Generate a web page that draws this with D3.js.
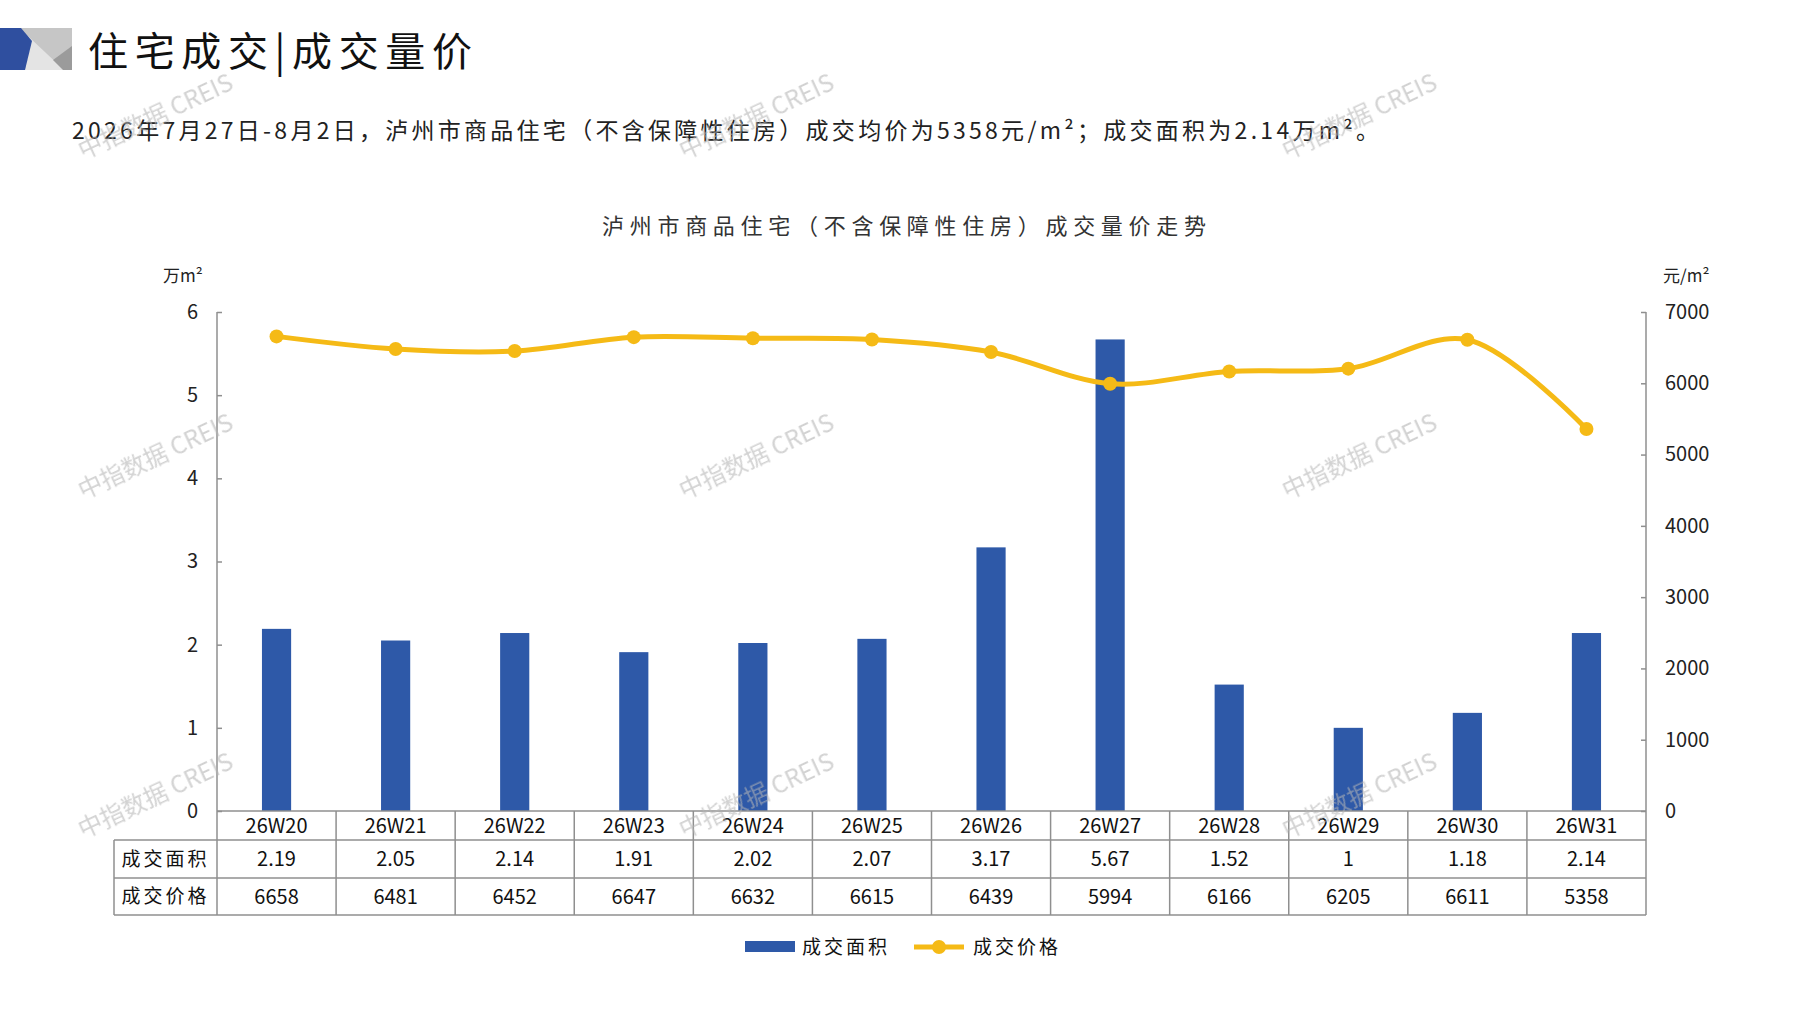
<!DOCTYPE html>
<html>
<head>
<meta charset="utf-8">
<script src="https://cdn.jsdelivr.net/npm/d3@7"></script>
<style>
  html, body { margin: 0; padding: 0; background: #fff; }
  text { font-family: "Noto Sans CJK SC", "Noto Sans", sans-serif; }
</style>
</head>
<body>
<script>
// chart data
const weeks = ["26W20", "26W21", "26W22", "26W23", "26W24", "26W25", "26W26", "26W27", "26W28", "26W29", "26W30", "26W31"];
const areaValues = [2.19, 2.05, 2.14, 1.91, 2.02, 2.07, 3.17, 5.67, 1.52, 1, 1.18, 2.14];
const priceValues = [6658, 6481, 6452, 6647, 6632, 6615, 6439, 5994, 6166, 6205, 6611, 5358];
const areaTicks = [0, 1, 2, 3, 4, 5, 6];
const priceTicks = [0, 1000, 2000, 3000, 4000, 5000, 6000, 7000];
const rowLabels = ["成交面积", "成交价格"];

const W = 1797, H = 1010;
const barColor = "#2E59A8", lineColor = "#F5BA16", gridColor = "#8f8f8f";

const svg = d3.select("body").append("svg")
  .attr("width", W)
  .attr("height", H);

// header logo
const logo = svg.append("g");
logo.append("polygon").attr("points", "21,28 72,28 72,70 25,70").attr("fill", "#c6c6c6");
logo.append("polygon").attr("points", "28,36 64,70 25,70").attr("fill", "#e4e4e4");
logo.append("polygon").attr("points", "53,60 72,46 72,70 63,70").attr("fill", "#9b9b9b");
logo.append("polygon").attr("points", "0,28 21,28 32,41 25,70 0,70").attr("fill", "#2F4F9F");

svg.append("text")
  .attr("x", 88).attr("y", 66)
  .attr("font-size", 40)
  .attr("fill", "#111")
  .attr("textLength", 384)
  .attr("lengthAdjust", "spacing")
  .text("住宅成交|成交量价");

svg.append("text")
  .attr("x", 72).attr("y", 139)
  .attr("font-size", 23)
  .attr("fill", "#222")
  .attr("textLength", 1307)
  .attr("lengthAdjust", "spacing")
  .text("2026年7月27日-8月2日，泸州市商品住宅（不含保障性住房）成交均价为5358元/m²；成交面积为2.14万m²。");

svg.append("text")
  .attr("x", 904).attr("y", 234)
  .attr("text-anchor", "middle")
  .attr("font-size", 22)
  .attr("fill", "#333")
  .attr("textLength", 604)
  .attr("lengthAdjust", "spacing")
  .text("泸州市商品住宅（不含保障性住房）成交量价走势");

// scales
const plotLeft = 217, plotRight = 1646, plotTop = 312, plotBase = 811;
const x = d3.scaleBand().domain(weeks).range([plotLeft, plotRight]).padding(0);
const yL = d3.scaleLinear().domain([0, 6]).range([plotBase, plotTop]);
const yR = d3.scaleLinear().domain([0, 7000]).range([plotBase, plotTop]);

// axes
const axL = svg.append("g").attr("transform", `translate(${plotLeft},0)`)
  .call(d3.axisLeft(yL).tickValues(areaTicks).tickFormat(d3.format("d")).tickSizeInner(-5).tickSizeOuter(0).tickPadding(19));
const axR = svg.append("g").attr("transform", `translate(${plotRight},0)`)
  .call(d3.axisRight(yR).tickValues(priceTicks).tickFormat(d3.format("d")).tickSizeInner(-5).tickSizeOuter(0).tickPadding(19));
[axL, axR].forEach(ax => {
  ax.select(".domain").remove();
  ax.selectAll(".tick line").attr("stroke", gridColor).attr("stroke-width", 1.5);
  ax.selectAll(".tick text").attr("font-size", 20).attr("fill", "#222")
    .attr("font-family", "'Noto Sans CJK SC', sans-serif");
});

svg.append("text").attr("x", 163).attr("y", 282).attr("font-size", 17).attr("fill", "#222").text("万m²");
svg.append("text").attr("x", 1663).attr("y", 282).attr("font-size", 17).attr("fill", "#222").text("元/m²");

// bars
const bw = x.bandwidth() * 0.245;
svg.append("g").selectAll("rect")
  .data(weeks)
  .join("rect")
  .attr("x", d => x(d) + x.bandwidth() / 2 - bw / 2)
  .attr("y", (d, i) => yL(areaValues[i]))
  .attr("width", bw)
  .attr("height", (d, i) => plotBase - yL(areaValues[i]))
  .attr("fill", barColor);

// price line
const line = d3.line()
  .x((d, i) => x(weeks[i]) + x.bandwidth() / 2)
  .y(d => yR(d))
  .curve(d3.curveCatmullRom.alpha(0.5));
svg.append("path")
  .datum(priceValues)
  .attr("d", line)
  .attr("fill", "none")
  .attr("stroke", lineColor)
  .attr("stroke-width", 5)
  .attr("stroke-linecap", "round");
svg.append("g").selectAll("circle")
  .data(priceValues)
  .join("circle")
  .attr("cx", (d, i) => x(weeks[i]) + x.bandwidth() / 2)
  .attr("cy", d => yR(d))
  .attr("r", 7)
  .attr("fill", lineColor);

// data table
const tableLeft = 114, rowY = [811, 840, 878, 915];
const grid = svg.append("g").attr("stroke", gridColor).attr("stroke-width", 1.5);
grid.append("line").attr("x1", plotLeft).attr("x2", plotRight).attr("y1", rowY[0]).attr("y2", rowY[0]);
rowY.slice(1).forEach(y => {
  grid.append("line").attr("x1", tableLeft).attr("x2", plotRight).attr("y1", y).attr("y2", y);
});
grid.append("line").attr("x1", tableLeft).attr("x2", tableLeft).attr("y1", rowY[1]).attr("y2", rowY[3]);
grid.append("line").attr("x1", plotLeft).attr("x2", plotLeft).attr("y1", plotTop).attr("y2", rowY[3]);
grid.append("line").attr("x1", plotRight).attr("x2", plotRight).attr("y1", plotTop).attr("y2", rowY[3]);
weeks.slice(1).forEach(w => {
  grid.append("line").attr("x1", x(w)).attr("x2", x(w)).attr("y1", rowY[0]).attr("y2", rowY[3]);
});

const cells = svg.append("g").attr("text-anchor", "middle").attr("font-size", 20).attr("fill", "#111");
const rows = [weeks, areaValues.map(String), priceValues.map(String)];
rows.forEach((vals, r) => {
  const cy = (rowY[r] + rowY[r + 1]) / 2;
  cells.selectAll(null)
    .data(vals)
    .join("text")
    .attr("x", (d, i) => x(weeks[i]) + x.bandwidth() / 2)
    .attr("y", cy)
    .attr("dy", "0.36em")
    .text(d => d);
});
rowLabels.forEach((t, r) => {
  svg.append("text")
    .attr("x", (tableLeft + plotLeft) / 2)
    .attr("y", (rowY[r + 1] + rowY[r + 2]) / 2)
    .attr("dy", "0.36em")
    .attr("text-anchor", "middle")
    .attr("font-size", 19)
    .attr("letter-spacing", 3)
    .attr("fill", "#111")
    .text(t);
});

// legend
const lg = svg.append("g");
lg.append("rect").attr("x", 745).attr("y", 941).attr("width", 50).attr("height", 11).attr("fill", barColor);
lg.append("text").attr("x", 802).attr("y", 947).attr("dy", "0.36em").attr("font-size", 19).attr("letter-spacing", 3).attr("fill", "#111").text("成交面积");
lg.append("line").attr("x1", 914).attr("x2", 964).attr("y1", 947).attr("y2", 947).attr("stroke", lineColor).attr("stroke-width", 5);
lg.append("circle").attr("cx", 939).attr("cy", 947).attr("r", 7).attr("fill", lineColor);
lg.append("text").attr("x", 973).attr("y", 947).attr("dy", "0.36em").attr("font-size", 19).attr("letter-spacing", 3).attr("fill", "#111").text("成交价格");

// watermarks
const wmX = [159, 760, 1363], wmY = [124, 464, 803];
const wm = svg.append("g").attr("fill", "#b5b5b5").attr("opacity", 0.6).attr("font-size", 24);
wmY.forEach(cy => wmX.forEach(cx => {
  wm.append("text")
    .attr("text-anchor", "middle")
    .attr("transform", `translate(${cx},${cy}) rotate(-25)`)
    .text("中指数据 CREIS");
}));
</script>
</body>
</html>
